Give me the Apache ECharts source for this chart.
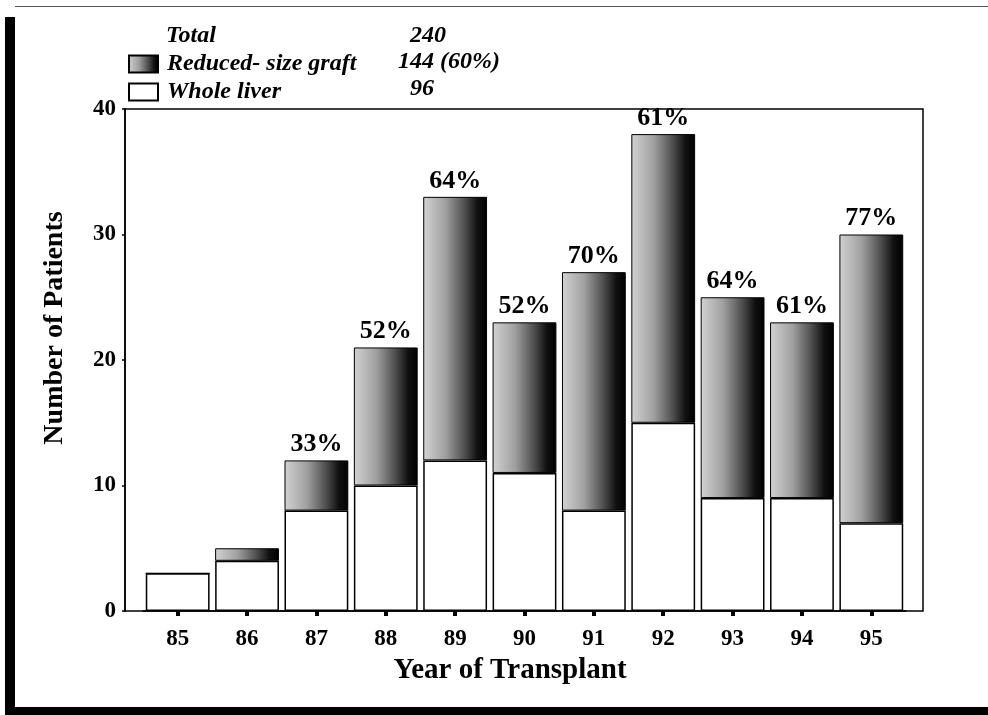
<!doctype html>
<html>
<head>
<meta charset="utf-8">
<script src="https://cdn.jsdelivr.net/npm/echarts@6/dist/echarts.min.js"></script>
<style>
  html, body { margin: 0; padding: 0; background: #fff; }
  #main { width: 988px; height: 715px; }
</style>
</head>
<body>
<div id="main"></div>
<script type="text/javascript">
// data
var years = ['85', '86', '87', '88', '89', '90', '91', '92', '93', '94', '95'];
var wholeLiver = [3, 4, 8, 10, 12, 11, 8, 15, 9, 9, 7];
var reducedGraft = [0, 1, 4, 11, 21, 12, 19, 23, 16, 14, 23];
var percentLabels = ['', '', '33%', '52%', '64%', '52%', '70%', '61%', '64%', '61%', '77%'];
var yTicks = [0, 10, 20, 30, 40];

var serif = '"Liberation Serif", "Times New Roman", serif';

function sum(arr) {
  var s = 0;
  for (var i = 0; i < arr.length; i++) s += arr[i];
  return s;
}
var totWhole = sum(wholeLiver);
var totReduced = sum(reducedGraft);
var total = totWhole + totReduced;

var myChart = echarts.init(document.getElementById('main'));

var grayFill = new echarts.graphic.LinearGradient(0, 0, 1, 0, [
  {offset: 0, color: '#d2d2d2'},
  {offset: 0.35, color: '#a0a0a0'},
  {offset: 0.65, color: '#4e4e4e'},
  {offset: 0.85, color: '#101010'},
  {offset: 1, color: '#000000'}
]);

var legendFont = 'italic bold 24px ' + serif;

var option = {
  backgroundColor: '#fff',
  animation: false,
  legend: {
    data: ['Reduced- size graft', 'Whole liver'],
    orient: 'vertical',
    left: 123,
    top: 47,
    icon: 'rect',
    itemWidth: 29,
    itemHeight: 17,
    itemGap: 4,
    selectedMode: false,
    textStyle: {
      fontFamily: serif,
      fontStyle: 'italic',
      fontWeight: 'bold',
      fontSize: 24,
      color: '#000',
      padding: [0, 0, 0, 4]
    }
  },
  grid: [
    // frame + y axis
    {left: 125, right: 65, top: 109, bottom: 104, show: true, borderColor: '#000', borderWidth: 1.5},
    // bars
    {left: 143, right: 82, top: 109, bottom: 104}
  ],
  xAxis: [
    {gridIndex: 0, type: 'value', show: false, min: 0, max: 1},
    {
      gridIndex: 1,
      type: 'category',
      data: years,
      axisLine: {show: true, lineStyle: {color: '#000', width: 1.5}},
      axisTick: {show: true, alignWithLabel: true, length: 5, lineStyle: {color: '#000', width: 4}},
      axisLabel: {fontFamily: serif, fontWeight: 'bold', fontSize: 23, color: '#000', margin: 17}
    }
  ],
  yAxis: [
    {
      gridIndex: 0,
      type: 'value',
      min: yTicks[0],
      max: yTicks[yTicks.length - 1],
      interval: 10,
      splitLine: {show: false},
      axisLine: {show: true, lineStyle: {color: '#000', width: 1.5}},
      axisTick: {show: true, length: 3, lineStyle: {color: '#000', width: 1.5}},
      axisLabel: {fontFamily: serif, fontWeight: 'bold', fontSize: 23, color: '#000', margin: 9}
    },
    {gridIndex: 1, type: 'value', show: false, min: 0, max: 40, splitLine: {show: false}}
  ],
  graphic: [
    // scan border
    {type: 'rect', left: 5, top: 17, shape: {width: 10, height: 698}, style: {fill: '#000'}, silent: true},
    {type: 'rect', left: 5, top: 707, shape: {width: 983, height: 8}, style: {fill: '#000'}, silent: true},
    {type: 'rect', left: 15, top: 6, shape: {width: 973, height: 1}, style: {fill: '#555'}, silent: true},
    // legend header and totals
    {type: 'text', left: 166, top: 24, style: {text: 'Total', font: legendFont, fill: '#000'}},
    {type: 'text', left: 410, top: 24, style: {text: String(total), font: legendFont, fill: '#000'}},
    {type: 'text', left: 398, top: 50, style: {text: totReduced + ' (' + Math.round(totReduced / total * 100) + '%)', font: legendFont, fill: '#000'}},
    {type: 'text', left: 410, top: 77, style: {text: String(totWhole), font: legendFont, fill: '#000'}},
    // axis titles
    {type: 'text', x: 55, y: 328, rotation: Math.PI / 2, style: {text: 'Number of Patients', font: 'bold 28px ' + serif, fill: '#000', textAlign: 'center', textVerticalAlign: 'middle'}},
    {type: 'text', x: 510, y: 671, style: {text: 'Year of Transplant', font: 'bold 29px ' + serif, fill: '#000', textAlign: 'center', textVerticalAlign: 'middle'}}
  ],
  series: [
    {
      name: 'Whole liver',
      type: 'bar',
      xAxisIndex: 1,
      yAxisIndex: 1,
      stack: 'tot',
      barCategoryGap: '8%',
      data: wholeLiver,
      itemStyle: {color: '#fff', borderColor: '#000', borderWidth: 1.5}
    },
    {
      name: 'Reduced- size graft',
      type: 'bar',
      xAxisIndex: 1,
      yAxisIndex: 1,
      stack: 'tot',
      barCategoryGap: '8%',
      data: reducedGraft,
      itemStyle: {color: grayFill, borderColor: '#000', borderWidth: 1},
      label: {
        show: true,
        position: 'top',
        distance: 3,
        fontFamily: serif,
        fontWeight: 'bold',
        fontSize: 26,
        color: '#000',
        formatter: function (p) { return percentLabels[p.dataIndex]; }
      }
    }
  ]
};

myChart.setOption(option);
</script>
</body>
</html>
